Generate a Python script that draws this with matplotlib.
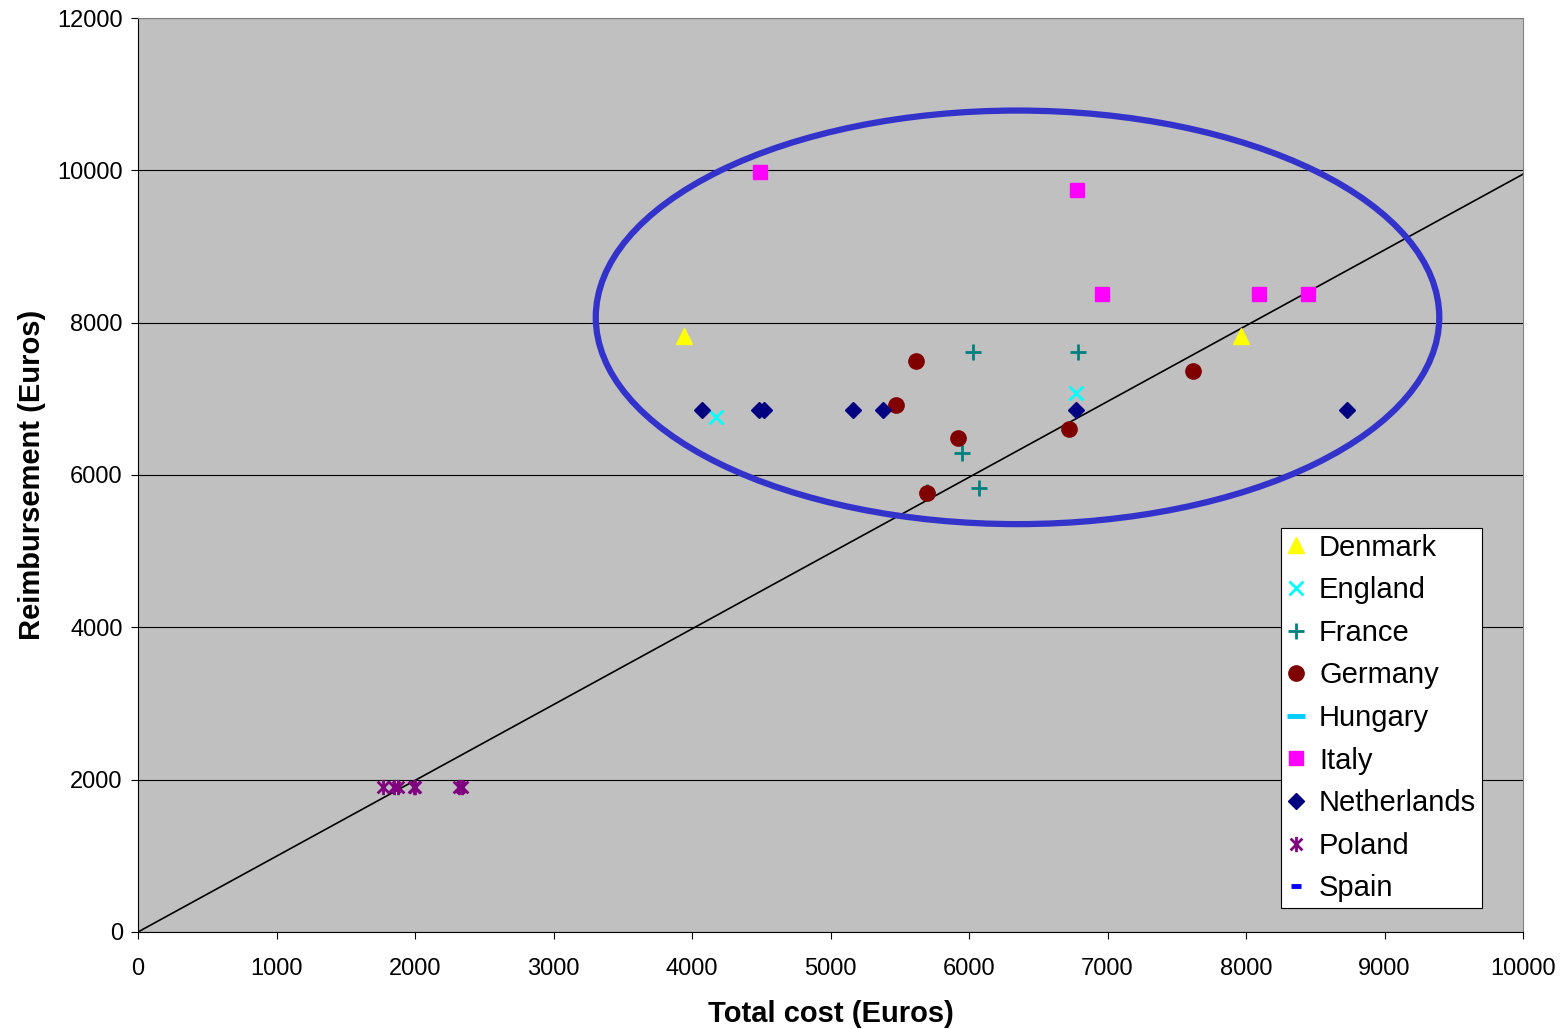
import numpy as np
import matplotlib
matplotlib.use('Agg')
import matplotlib.pyplot as plt
from matplotlib.patches import Ellipse
from matplotlib.path import Path

plt.rcParams['font.family'] = ['Liberation Sans', 'DejaVu Sans']

# data (Euros)
denmark_x = [3940, 7960]
denmark_y = [7830, 7830]
england_x = [4170, 6770]
england_y = [6760, 7070]
france_x = [6030, 6790, 5950, 6070, 5700]
france_y = [7610, 7610, 6290, 5830, 5780]
germany_x = [5620, 5470, 5920, 5700, 6720, 7620]
germany_y = [7500, 6920, 6490, 5770, 6600, 7360]
hungary_x = []
hungary_y = []
italy_x = [4490, 6780, 6960, 8090, 8450]
italy_y = [9980, 9740, 8370, 8370, 8370]
netherlands_x = [4070, 4480, 4520, 5160, 5380, 6770, 8730]
netherlands_y = [6850, 6850, 6850, 6850, 6850, 6850, 6850]
poland_x = [1770, 1850, 1880, 1990, 2000, 2320, 2340]
poland_y = [1900, 1900, 1900, 1900, 1900, 1900, 1900]
spain_x = []
spain_y = []

diag_x = [0, 10000]
diag_y = [0, 9950]

# ellipse drawn round the cluster: centre, width, height (data units)
ell_center = (6350, 8070)
ell_w = 6090
ell_h = 5430

# star marker (x with vertical bar) like the Excel one
star = Path([(-1, -1), (1, 1), (-1, 1), (1, -1), (0, -1.3), (0, 1.3)],
            [Path.MOVETO, Path.LINETO, Path.MOVETO, Path.LINETO, Path.MOVETO, Path.LINETO])

fig = plt.figure(figsize=(15.65, 10.29), dpi=100)
ax = fig.add_axes([0.0882, 0.0943, 0.885, 0.8882])
ax.set_facecolor('#C0C0C0')

ax.plot(diag_x, diag_y, color='black', linewidth=1.2, zorder=2)

ax.plot(denmark_x, denmark_y, linestyle='none', marker='^', markersize=11, color='#FFFF00', label='Denmark', zorder=3)
ax.plot(england_x, england_y, linestyle='none', marker='x', markersize=10, markeredgewidth=2, color='#00FFFF', label='England', zorder=3)
ax.plot(france_x, france_y, linestyle='none', marker='+', markersize=11, markeredgewidth=2, color='#008080', label='France', zorder=3)
ax.plot(germany_x, germany_y, linestyle='none', marker='o', markersize=11, color='#800000', label='Germany', zorder=3)
ax.plot(hungary_x, hungary_y, linestyle='none', marker='_', markersize=13, markeredgewidth=3.5, color='#00CCFF', label='Hungary', zorder=3)
ax.plot(italy_x, italy_y, linestyle='none', marker='s', markersize=10, color='#FF00FF', label='Italy', zorder=3)
ax.plot(netherlands_x, netherlands_y, linestyle='none', marker='D', markersize=8.5, color='#000080', label='Netherlands', zorder=3)
ax.plot(poland_x, poland_y, linestyle='none', marker=star, markersize=11, markeredgewidth=2, color='#800080', label='Poland', zorder=3)
ax.plot(spain_x, spain_y, linestyle='none', marker='_', markersize=7, markeredgewidth=3.5, color='#0000FF', label='Spain', zorder=3)

ax.add_patch(Ellipse(ell_center, ell_w, ell_h, fill=False, edgecolor='#3333CC', linewidth=4.5, zorder=4))

ax.set_xlim(0, 10000)
ax.set_ylim(0, 12000)
ax.set_xticks(np.arange(0, 10001, 1000))
ax.set_yticks(np.arange(0, 12001, 2000))
ax.tick_params(labelsize=17, direction='out', length=5, color='black')
ax.tick_params(axis='x', pad=14)
ax.tick_params(axis='y', pad=6)
ax.grid(which='major', axis='y', color='black', linewidth=0.8)
ax.set_axisbelow(True)

for side in ['top', 'right']:
    ax.spines[side].set_color('#808080')
ax.spines['left'].set_color('black')
ax.spines['bottom'].set_color('black')

ax.set_xlabel('Total cost (Euros)', fontsize=21, fontweight='bold', labelpad=14)
ax.set_ylabel('Reimbursement (Euros)', fontsize=21, fontweight='bold', labelpad=8)

leg = ax.legend(loc='lower right', bbox_to_anchor=(0.9704, 0.026), fontsize=21, frameon=True,
                fancybox=False, framealpha=1, edgecolor='black', handlelength=0.6,
                handletextpad=0.5, labelspacing=0.5, borderpad=0.2, borderaxespad=0)
leg.get_frame().set_linewidth(0.8)

fig.savefig('out.png', dpi=100)
